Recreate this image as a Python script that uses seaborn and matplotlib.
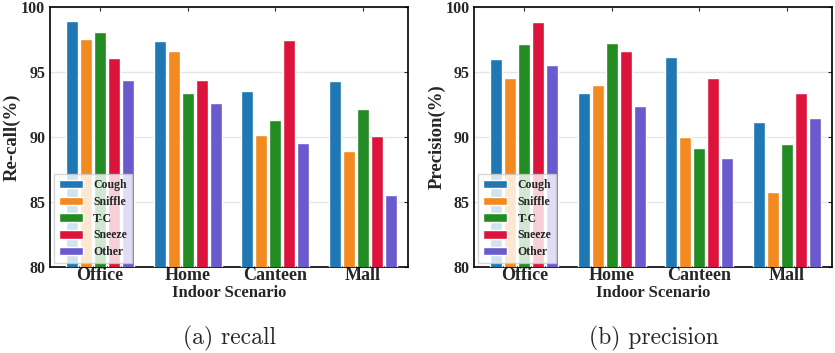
"""
Recall / precision per indoor scenario for the five sound classes.
"""

import pandas as pd
import matplotlib.pyplot as plt
import seaborn as sns

scenarios = ['Office', 'Home', 'Canteen', 'Mall']
classes = ['Cough', 'Sniffle', 'T-C', 'Sneeze', 'Other']

# values per class, one entry per scenario
recall = {
    'Cough':   [98.95, 97.35, 93.55, 94.32],
    'Sniffle': [97.55, 96.62, 90.13, 88.90],
    'T-C':     [98.10, 93.40, 91.30, 92.15],
    'Sneeze':  [96.08, 94.35, 97.50, 90.05],
    'Other':   [94.42, 92.62, 89.55, 85.55],
}
precision = {
    'Cough':   [96.00, 93.35, 96.15, 91.15],
    'Sniffle': [94.52, 93.98, 90.00, 85.78],
    'T-C':     [97.18, 97.22, 89.18, 89.50],
    'Sneeze':  [98.88, 96.65, 94.55, 93.35],
    'Other':   [95.55, 92.35, 88.35, 91.45],
}

colors = ['#1f77b4', '#f28a20', '#228b22', '#dc143c', '#6a5acd']


def to_long(values):
    rows = []
    for cls in classes:
        for sc, v in zip(scenarios, values[cls]):
            rows.append({'Scenario': sc, 'Class': cls, 'Value': v})
    return pd.DataFrame(rows)


def draw_panel(ax, df, ylabel, caption):
    sns.barplot(data=df, x='Scenario', y='Value', hue='Class',
                order=scenarios, hue_order=classes, palette=colors,
                width=0.8, gap=0.15, saturation=1, ax=ax, zorder=3)
    ax.set_ylim(80, 100)
    ax.set_xlim(-0.57, 3.52)
    ax.set_yticks([80, 85, 90, 95, 100])
    ax.grid(axis='y', color='#e6e6e6', linewidth=1, zorder=0)
    ax.grid(axis='x', visible=False)
    ax.set_axisbelow(True)
    ax.tick_params(direction='in', top=True, right=True, length=3, width=0.8)
    ax.tick_params(axis='y', labelsize=11.5)
    ax.tick_params(axis='x', labelsize=13, pad=0)
    for lab in ax.get_xticklabels() + ax.get_yticklabels():
        lab.set_fontweight('bold')
    ax.set_ylabel(ylabel, fontsize=13.5, fontweight='bold', labelpad=0)
    ax.set_xlabel('Indoor Scenario', fontsize=12, fontweight='bold', labelpad=1)
    for spine in ax.spines.values():
        spine.set_color('black')
        spine.set_linewidth(1.2)
    leg = ax.legend(loc='lower left', prop={'weight': 'bold', 'size': 8.5},
                    frameon=True, borderpad=0.45, labelspacing=0.4,
                    handlelength=2.0, handleheight=0.75, handletextpad=0.9,
                    borderaxespad=0.3, fancybox=False, edgecolor='#cccccc')
    leg.get_frame().set_alpha(0.8)
    ax.text(0.5, -0.225, caption, transform=ax.transAxes, ha='center', va='top',
            fontsize=17, family='cmr10')


def main():
    sns.set_theme(style='white')
    plt.rcParams['font.family'] = ['Liberation Serif', 'DejaVu Serif']

    fig = plt.figure(figsize=(8.35, 3.53), dpi=100)
    ax1 = fig.add_axes([0.060, 0.2436, 0.429, 0.7365])
    ax2 = fig.add_axes([0.568, 0.2436, 0.429, 0.7365])

    draw_panel(ax1, to_long(recall), 'Re-call(%)', '(a) recall')
    draw_panel(ax2, to_long(precision), 'Precision(%)', '(b) precision')

    fig.savefig('out.png', dpi=100)
    plt.close(fig)


if __name__ == '__main__':
    main()
